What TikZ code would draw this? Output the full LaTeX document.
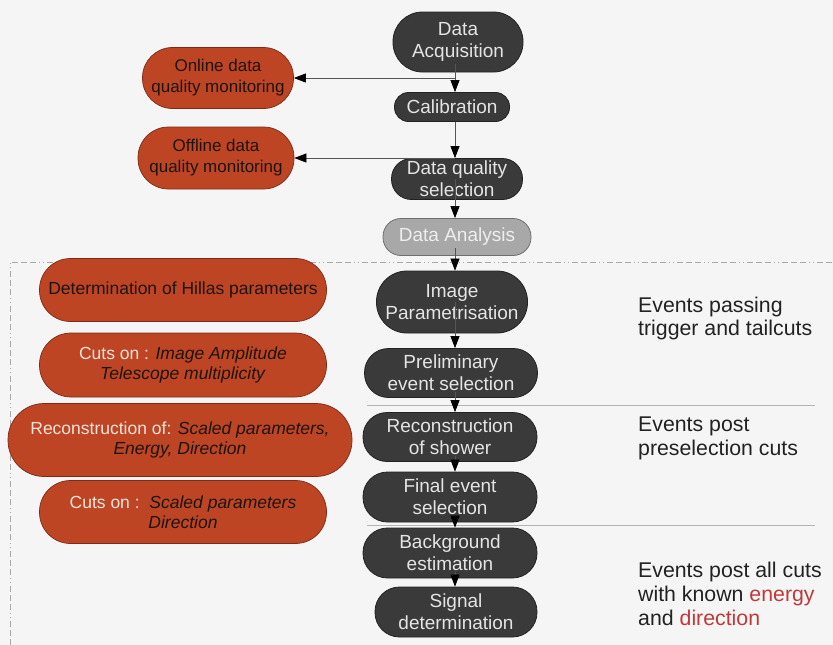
\documentclass[tikz,border=0pt]{standalone}
\usepackage{fontspec}
\setmainfont{Liberation Sans}
\usetikzlibrary{arrows.meta}
\definecolor{bg}{HTML}{F5F5F5}
\definecolor{darkfill}{HTML}{3A3A3A}
\definecolor{darkline}{HTML}{222222}
\definecolor{darktext}{HTML}{E4E4E4}
\definecolor{anafill}{HTML}{A8A8A8}
\definecolor{analine}{HTML}{6E6E6E}
\definecolor{anatext}{HTML}{EEEEEE}
\definecolor{orfill}{HTML}{BE4524}
\definecolor{orline}{HTML}{7A2C16}
\definecolor{ortext}{HTML}{1C1410}
\definecolor{orwhite}{HTML}{F2E4DC}
\definecolor{linegray}{HTML}{555555}
\definecolor{sepgray}{HTML}{B4B4B4}
\definecolor{framegray}{HTML}{A8A8A8}
\definecolor{rtext}{HTML}{222222}
\definecolor{redtext}{HTML}{C0393A}
\begin{document}
\begin{tikzpicture}[x=1pt,y=-1pt,
  sz/.style 2 args={minimum width=#1, minimum height=#2, rounded corners=#2/2-0.5},
  darkbox/.style={draw=darkline, fill=darkfill, text=darktext, line width=0.8pt,
    font=\fontsize{19}{22}\selectfont, align=center, inner sep=0pt},
  anabox/.style={draw=analine, fill=anafill, text=anatext, line width=0.8pt,
    font=\fontsize{19}{22}\selectfont, align=center, inner sep=0pt},
  orbox/.style={draw=orline, fill=orfill, text=ortext, line width=0.7pt,
    font=\fontsize{17.5}{20}\selectfont, align=center, inner sep=0pt},
  arr/.style={draw=linegray, line width=0.7pt,
    -{Triangle[length=12pt,width=9pt,color=black]}},
  sepline/.style={draw=sepgray, line width=0.8pt},
  frameline/.style={draw=framegray, line width=0.7pt,
    dash pattern=on 6pt off 3pt on 6pt off 3pt on 6pt off 3pt on 1pt off 3pt on 1pt off 3pt},
  rtxt/.style={text=rtext, font=\fontsize{21.3}{23.8}\selectfont, align=left, inner sep=0pt, anchor=west}
]
\useasboundingbox[fill=bg] (0,0) rectangle (833,645);

% frame
\draw[frameline] (10,645) -- (10,262) -- (833,262);
% separators
\draw[sepline] (367,405) -- (815,405);
\draw[sepline] (367,525) -- (815,525);

% main column
\node[darkbox, sz={130}{60}] (acq) at (458,42) {Data\\Acquisition};
\node[darkbox, sz={115}{29}] (cal) at (452,107) {Calibration};
\node[darkbox, sz={131}{41}] (dqs) at (457,179) {Data quality\\selection};
\node[anabox, sz={148}{37}] (dana) at (457,237) {Data Analysis};
\node[darkbox, sz={151}{62}] (imgp) at (452,302) {Image\\Parametrisation};
\node[darkbox, sz={173}{49}] (prel) at (451,373) {Preliminary\\event selection};
\node[darkbox, sz={174}{49}] (reco) at (450,437) {Reconstruction\\of shower};
\node[darkbox, sz={174}{50}] (fin) at (450,497) {Final event\\selection};
\node[darkbox, sz={174}{50}] (bkg) at (450,553) {Background\\estimation};
\node[darkbox, sz={162}{50}] (sig) at (456,612) {Signal\\determination};

% left column
\node[orbox, sz={151}{61}, font=\fontsize{17}{21}\selectfont] (onl) at (218,78) {Online data\\quality monitoring};
\node[orbox, sz={156}{62}, font=\fontsize{17}{21}\selectfont] (off) at (216,158) {Offline data\\quality monitoring};
\node[orbox, sz={287}{63}] (hil) at (183,290) {Determination of Hillas parameters};
\node[orbox, sz={287}{64}] (cut1) at (183,365) {\textcolor{orwhite}{Cuts on :} \textit{Image Amplitude}\\\textit{Telescope multiplicity}};
\node[orbox, sz={344}{73}] (rec) at (180,440) {\textcolor{orwhite}{Reconstruction of:} \textit{Scaled parameters,}\\\textit{Energy, Direction}};
\node[orbox, sz={287}{63}] (cut2) at (183,512) {\textcolor{orwhite}{Cuts on :}\ \ \textit{Scaled parameters}\\\textit{Direction}};

% right texts
\node[rtxt] (t1) at (638,318.5) {Events passing\\trigger and tailcuts};
\node[rtxt] (t2) at (638,438.5) {Events post\\preselection cuts};
\node[rtxt] (t3) at (638,594) {Events post all cuts\\with known \textcolor{redtext}{energy}\\and \textcolor{redtext}{direction}};

% spine
\coordinate (spine) at (455,0);
\draw[arr] ([yshift=8pt]acq.south -| spine) -- (cal.north -| spine);
\draw[arr] (cal.south -| spine) -- (dqs.north -| spine);
\draw[arr] (dqs.center -| spine) -- (dana.north -| spine);
\draw[arr] ([yshift=8pt]dana.south -| spine) -- (imgp.north -| spine);
\draw[arr] (imgp.center -| spine) -- (prel.north -| spine);
\draw[arr] ([yshift=6pt]prel.south -| spine) -- (reco.north -| spine);
\draw[arr] ([yshift=6pt]reco.south -| spine) -- (fin.north -| spine);
\draw[arr] ([yshift=6pt]fin.south -| spine) -- (bkg.north -| spine);
\draw[arr] ([yshift=6pt]bkg.south -| spine) -- (sig.north -| spine);
% side arrows
\draw[arr] (onl.east -| spine) -- (onl.east);
\draw[arr] (off.east -| spine) -- (off.east);
\end{tikzpicture}
\end{document}
